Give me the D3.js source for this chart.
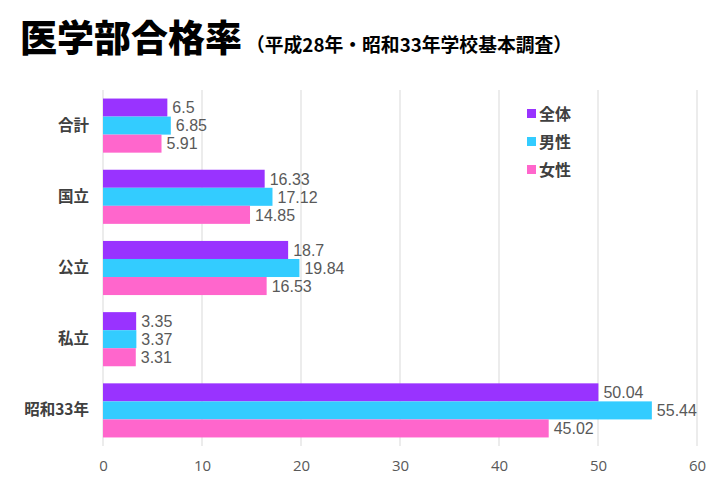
<!DOCTYPE html>
<html>
<head>
  <meta charset="utf-8">
  <title>医学部合格率</title>
  <style>
    body { margin: 0; background: #fff; }
    text { font-family: "Noto Sans CJK JP", "Noto Sans", sans-serif; }
  </style>
</head>
<body>
  <script src="https://cdn.jsdelivr.net/npm/d3@7/dist/d3.min.js"></script>
  <script>
    // data
    var categories = ["合計", "国立", "公立", "私立", "昭和33年"];
    var seriesNames = ["全体", "男性", "女性"];
    var total = [6.5, 16.33, 18.7, 3.35, 50.04];
    var male = [6.85, 17.12, 19.84, 3.37, 55.44];
    var female = [5.91, 14.85, 16.53, 3.31, 45.02];
    var xTicks = [0, 10, 20, 30, 40, 50, 60];
    var colors = ["#9933ff", "#33ccff", "#ff66cc"];

    var W = 720, H = 485;
    var margin = {top: 90, right: 23, bottom: 39, left: 103};
    var width = W - margin.left - margin.right;
    var height = H - margin.top - margin.bottom;

    var svg = d3.select("body").append("svg")
      .attr("width", W)
      .attr("height", H);

    // title
    svg.append("text")
      .attr("x", 20)
      .attr("y", 52)
      .style("font-size", "37px")
      .style("font-weight", 900)
      .style("fill", "#000")
      .text("医学部合格率");
    svg.append("text")
      .attr("x", 246)
      .attr("y", 52)
      .style("font-size", "18.8px")
      .style("font-weight", 700)
      .style("fill", "#000")
      .text("（平成28年・昭和33年学校基本調査）");

    var g = svg.append("g")
      .attr("transform", "translate(" + margin.left + "," + margin.top + ")");

    var x = d3.scaleLinear().domain([0, 60]).range([0, width]);
    var y0 = d3.scaleBand().domain(categories).range([0, height]).paddingInner(0.24).paddingOuter(0.12);
    var y1 = d3.scaleBand().domain(seriesNames).range([0, y0.bandwidth()]);

    // grid
    g.append("g").selectAll("line")
      .data(xTicks)
      .enter().append("line")
      .attr("x1", d => x(d)).attr("x2", d => x(d))
      .attr("y1", 0).attr("y2", height)
      .attr("stroke", "#e6e6e6")
      .attr("stroke-width", 1.5);

    // x axis
    var xAxis = g.append("g")
      .attr("transform", "translate(0," + height + ")")
      .call(d3.axisBottom(x).tickValues(xTicks).tickSize(0).tickPadding(14));
    xAxis.select(".domain").remove();
    xAxis.selectAll("text")
      .style("font-family", "'Open Sans', 'Noto Sans', sans-serif")
      .style("font-size", "15px")
      .style("fill", "#595959");

    // y axis
    var yAxis = g.append("g")
      .call(d3.axisLeft(y0).tickSize(0).tickPadding(14));
    yAxis.select(".domain").remove();
    yAxis.selectAll("text")
      .style("font-size", "15.5px")
      .style("font-weight", 700)
      .style("fill", "#404040");

    var rows = categories.map(function (c, i) {
      return {cat: c, vals: [total[i], male[i], female[i]]};
    });

    var groups = g.selectAll(".grp")
      .data(rows)
      .enter().append("g")
      .attr("class", "grp")
      .attr("transform", d => "translate(0," + y0(d.cat) + ")");

    var items = groups.selectAll(".item")
      .data(d => d.vals.map((v, k) => ({name: seriesNames[k], v: v, k: k})))
      .enter().append("g");

    items.append("rect")
      .attr("x", 0)
      .attr("y", d => y1(d.name))
      .attr("width", d => x(d.v))
      .attr("height", y1.bandwidth())
      .attr("fill", d => colors[d.k]);

    // value labels: font with a short line box so stacked labels don't collide
    items.append("text")
      .attr("x", d => x(d.v) + 5)
      .attr("y", d => y1(d.name) + y1.bandwidth() / 2)
      .attr("dy", "0.36em")
      .style("font-family", "'Liberation Sans', Arial, sans-serif")
      .style("font-size", "16px")
      .style("fill", "#595959")
      .text(d => d.v);

    // legend
    var legend = svg.append("g").attr("transform", "translate(527,107)");
    var li = legend.selectAll("g")
      .data(seriesNames)
      .enter().append("g")
      .attr("transform", (d, i) => "translate(0," + i * 28 + ")");
    li.append("rect")
      .attr("width", 9).attr("height", 9)
      .attr("y", 2)
      .attr("fill", (d, i) => colors[i]);
    li.append("text")
      .attr("x", 12)
      .attr("y", 7)
      .attr("dy", "0.36em")
      .style("font-size", "16px")
      .style("font-weight", 700)
      .style("fill", "#404040")
      .text(d => d);
  </script>
</body>
</html>
